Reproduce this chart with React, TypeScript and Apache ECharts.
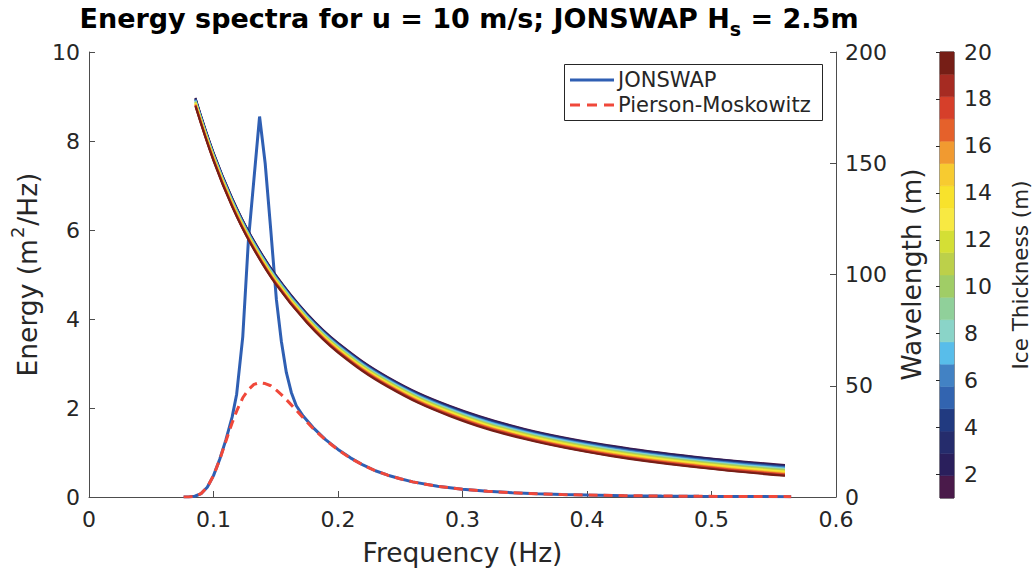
import React, { useEffect, useRef } from "react";
import * as echarts from "echarts";

// ---- Spectra (left axis) ----
const FREQ_SPEC = [0.076, 0.080, 0.085, 0.090, 0.095, 0.100, 0.105, 0.110, 0.115, 0.1186, 0.1235, 0.128, 0.1325, 0.137, 0.1415, 0.146, 0.1505, 0.1545, 0.1585, 0.1625, 0.1665, 0.172, 0.180, 0.190, 0.200, 0.210, 0.220, 0.230, 0.240, 0.250, 0.260, 0.280, 0.300, 0.320, 0.340, 0.360, 0.380, 0.400, 0.430, 0.460, 0.490, 0.520, 0.564];
const JONSWAP = [0, 0.002, 0.017, 0.076, 0.22, 0.48, 0.85, 1.29, 1.80, 2.31, 3.6, 5.75, 7.15, 8.55, 7.50, 6.00, 4.44, 3.50, 2.80, 2.35, 2.05, 1.82, 1.56, 1.29, 1.07, 0.88, 0.72, 0.59, 0.49, 0.41, 0.34, 0.24, 0.175, 0.128, 0.096, 0.072, 0.055, 0.043, 0.030, 0.022, 0.016, 0.012, 0.008];
const PIERSON_MOSKOWITZ = [0, 0.002, 0.017, 0.076, 0.22, 0.48, 0.84, 1.26, 1.67, 1.93, 2.23, 2.41, 2.53, 2.57, 2.55, 2.50, 2.40, 2.30, 2.19, 2.07, 1.95, 1.78, 1.54, 1.28, 1.06, 0.87, 0.72, 0.59, 0.49, 0.41, 0.34, 0.24, 0.175, 0.128, 0.096, 0.072, 0.055, 0.043, 0.030, 0.022, 0.016, 0.012, 0.008];

// ---- Wavelength (right axis), one row per ice thickness 1..20 m ----
const FREQ_WAVE = [0.0855, 0.1, 0.115, 0.13, 0.15, 0.175, 0.2, 0.24, 0.29, 0.35, 0.42, 0.49, 0.559];
const WAVE_H1 = [179.4, 154.9, 134.4, 117.6, 99.8, 82.5, 69.3, 53.9, 40.9, 30.6, 23.0, 17.9, 14.4];
const WAVE_H2 = [179.2, 154.7, 134.2, 117.4, 99.6, 82.3, 69.1, 53.7, 40.7, 30.4, 22.8, 17.7, 14.1];
const WAVE_H3 = [179.0, 154.5, 134.0, 117.2, 99.4, 82.1, 68.8, 53.4, 40.4, 30.1, 22.5, 17.4, 13.9];
const WAVE_H4 = [178.8, 154.3, 133.8, 117.0, 99.1, 81.8, 68.6, 53.2, 40.2, 29.9, 22.3, 17.2, 13.6];
const WAVE_H5 = [178.6, 154.1, 133.6, 116.8, 98.9, 81.6, 68.4, 53.0, 39.9, 29.6, 22.0, 16.9, 13.4];
const WAVE_H6 = [178.4, 153.9, 133.4, 116.6, 98.7, 81.4, 68.2, 52.8, 39.7, 29.4, 21.8, 16.7, 13.1];
const WAVE_H7 = [178.2, 153.7, 133.1, 116.3, 98.5, 81.2, 67.9, 52.5, 39.5, 29.2, 21.5, 16.4, 12.8];
const WAVE_H8 = [178.0, 153.5, 132.9, 116.1, 98.3, 81.0, 67.7, 52.3, 39.2, 28.9, 21.3, 16.2, 12.6];
const WAVE_H9 = [177.8, 153.3, 132.7, 115.9, 98.0, 80.7, 67.5, 52.1, 39.0, 28.7, 21.0, 15.9, 12.3];
const WAVE_H10 = [177.6, 153.1, 132.5, 115.7, 97.8, 80.5, 67.2, 51.8, 38.7, 28.4, 20.8, 15.7, 12.1];
const WAVE_H11 = [177.4, 152.9, 132.3, 115.5, 97.6, 80.3, 67.0, 51.6, 38.5, 28.2, 20.5, 15.4, 11.8];
const WAVE_H12 = [177.2, 152.7, 132.1, 115.3, 97.4, 80.1, 66.8, 51.4, 38.3, 28.0, 20.3, 15.2, 11.5];
const WAVE_H13 = [177.0, 152.5, 131.9, 115.1, 97.2, 79.9, 66.5, 51.1, 38.0, 27.7, 20.0, 14.9, 11.3];
const WAVE_H14 = [176.8, 152.3, 131.7, 114.9, 96.9, 79.6, 66.3, 50.9, 37.8, 27.5, 19.8, 14.7, 11.0];
const WAVE_H15 = [176.6, 152.1, 131.5, 114.7, 96.7, 79.4, 66.1, 50.7, 37.5, 27.2, 19.5, 14.4, 10.8];
const WAVE_H16 = [176.4, 151.9, 131.3, 114.5, 96.5, 79.2, 65.9, 50.5, 37.3, 27.0, 19.3, 14.2, 10.5];
const WAVE_H17 = [176.2, 151.7, 131.0, 114.2, 96.3, 79.0, 65.6, 50.2, 37.1, 26.8, 19.0, 13.9, 10.2];
const WAVE_H18 = [176.0, 151.5, 130.8, 114.0, 96.1, 78.8, 65.4, 50.0, 36.8, 26.5, 18.8, 13.7, 10.0];
const WAVE_H19 = [175.8, 151.3, 130.6, 113.8, 95.8, 78.5, 65.2, 49.8, 36.6, 26.3, 18.5, 13.4, 9.7];
const WAVE_H20 = [175.6, 151.1, 130.4, 113.6, 95.6, 78.3, 64.9, 49.5, 36.3, 26.0, 18.3, 13.2, 9.5];
const WAVE_ROWS = [WAVE_H1, WAVE_H2, WAVE_H3, WAVE_H4, WAVE_H5, WAVE_H6, WAVE_H7, WAVE_H8, WAVE_H9, WAVE_H10, WAVE_H11, WAVE_H12, WAVE_H13, WAVE_H14, WAVE_H15, WAVE_H16, WAVE_H17, WAVE_H18, WAVE_H19, WAVE_H20];
const THICKNESS = [1, 2, 3, 4, 5, 6, 7, 8, 9, 10, 11, 12, 13, 14, 15, 16, 17, 18, 19, 20];
const THICK_COLORS = ["#4a1a4a", "#2a1f5c", "#252c6c", "#213a80", "#3264b0", "#4282c4", "#58bdea", "#8ad4c8", "#90d09a", "#a0cd66", "#bcd04a", "#d4df35", "#f8e942", "#f8e22c", "#f7cb30", "#f19a30", "#e5612b", "#d63f2a", "#a62b22", "#761e16"];
const COLORBAR_TICKS = [2, 4, 6, 8, 10, 12, 14, 16, 18, 20];

const FONT = "DejaVu Sans";
const TXT = "#262626";
const AXC = "#4d4d4d";
const J_COLOR = "#2f5fb3";
const PM_COLOR = "#f0483a";

export default function App() {
  const ref = useRef<HTMLDivElement>(null);
  useEffect(() => {
    if (!ref.current) return;
    const chart = echarts.init(ref.current, null, { renderer: "svg" });
    const axisCommon = {
      axisLine: { show: true, lineStyle: { color: AXC, width: 1 } },
      axisTick: { show: true, inside: true, length: 6, lineStyle: { color: AXC } },
      splitLine: { show: false },
      axisLabel: { color: TXT, fontSize: 22, fontFamily: FONT },
      nameTextStyle: { color: TXT, fontSize: 26.5, fontFamily: FONT },
    };
    const cbMin = 1, cbMax = 20;
    const band = (cbMax - cbMin) / THICK_COLORS.length;
    const legendText = { fontSize: 21, fontFamily: FONT, fill: TXT, verticalAlign: "middle", align: "left" };
    const option: any = {
      animation: false,
      backgroundColor: "#fff",
      textStyle: { fontFamily: FONT },
      grid: [
        { left: 89, top: 52, width: 747, height: 446 },
        { left: 940, top: 52, width: 22, height: 446, show: true, borderColor: "#262626", borderWidth: 1, backgroundColor: "transparent" },
      ],
      graphic: [
        {
          type: "text", x: 469, y: 5,
          style: {
            text: "{a|Energy spectra for u = 10 m/s; JONSWAP H}{b|s}{a| = 2.5m}",
            align: "center",
            rich: {
              a: { fontSize: 27, fontWeight: "bold", fontFamily: FONT, fill: "#000", verticalAlign: "top" },
              b: { fontSize: 19, fontWeight: "bold", fontFamily: FONT, fill: "#000", verticalAlign: "top", padding: [14, 0, 0, 0] },
            },
          },
        },
        // legend box
        {
          type: "rect", z: 50,
          shape: { x: 564.5, y: 64.5, width: 258, height: 56 },
          style: { fill: "#fff", stroke: "#262626", lineWidth: 1 },
        },
        { type: "line", z: 51, shape: { x1: 570, y1: 80, x2: 614, y2: 80 }, style: { stroke: J_COLOR, lineWidth: 3 } },
        { type: "text", z: 51, x: 618, y: 80, style: { text: "JONSWAP", ...legendText } },
        { type: "line", z: 51, shape: { x1: 570, y1: 105, x2: 614, y2: 105 }, style: { stroke: PM_COLOR, lineWidth: 3, lineDash: [10, 7] } },
        { type: "text", z: 51, x: 618, y: 105, style: { text: "Pierson-Moskowitz", ...legendText } },
      ],
      xAxis: [
        {
          ...axisCommon, gridIndex: 0, type: "value", min: 0, max: 0.6, interval: 0.1,
          name: "Frequency (Hz)", nameLocation: "middle", nameGap: 42,
          axisLabel: { ...axisCommon.axisLabel, margin: 11 },
        },
        { gridIndex: 1, type: "value", min: 0, max: 1, show: false },
      ],
      yAxis: [
        {
          ...axisCommon, gridIndex: 0, type: "value", min: 0, max: 10, interval: 2,
          name: "{a|Energy (m}{s|2}{a|/Hz)}", nameLocation: "middle", nameGap: 47, nameRotate: 90,
          nameTextStyle: {
            color: TXT, fontFamily: FONT,
            rich: {
              a: { fontSize: 26.5, fontFamily: FONT, color: TXT, verticalAlign: "top", padding: [6, 0, 0, 0] },
              s: { fontSize: 18, fontFamily: FONT, color: TXT, verticalAlign: "top", padding: [0, 1, 0, 1] },
            },
          },
          axisLabel: { ...axisCommon.axisLabel, margin: 9 },
        },
        {
          ...axisCommon, gridIndex: 0, type: "value", position: "right", min: 0, max: 200, interval: 50,
          name: "Wavelength (m)", nameLocation: "middle", nameGap: 60, nameRotate: 90,
          axisLabel: { ...axisCommon.axisLabel, margin: 9 },
        },
        {
          gridIndex: 1, type: "value", position: "right", min: cbMin, max: cbMax,
          axisLine: { show: false },
          splitLine: { show: false },
          axisTick: { show: true, inside: true, length: 4, lineStyle: { color: "#262626" }, customValues: COLORBAR_TICKS },
          axisLabel: { color: TXT, fontSize: 22, fontFamily: FONT, margin: 10, customValues: COLORBAR_TICKS },
          name: "Ice Thickness (m)", nameLocation: "middle", nameGap: 55, nameRotate: 90,
          nameTextStyle: { color: TXT, fontSize: 21.5, fontFamily: FONT },
        },
      ],
      series: [
        {
          name: "JONSWAP", type: "line", xAxisIndex: 0, yAxisIndex: 0,
          data: FREQ_SPEC.map((f, i) => [f, JONSWAP[i]]),
          symbol: "none", showSymbol: false, z: 3,
          lineStyle: { color: J_COLOR, width: 3 }, itemStyle: { color: J_COLOR },
        },
        {
          name: "Pierson-Moskowitz", type: "line", xAxisIndex: 0, yAxisIndex: 0,
          data: FREQ_SPEC.map((f, i) => [f, PIERSON_MOSKOWITZ[i]]),
          symbol: "none", showSymbol: false, z: 4,
          lineStyle: { color: PM_COLOR, width: 3, type: [9, 6] }, itemStyle: { color: PM_COLOR },
        },
        ...WAVE_ROWS.map((row, k) => ({
          name: "h" + THICKNESS[k], type: "line", xAxisIndex: 0, yAxisIndex: 1,
          data: FREQ_WAVE.map((f, i) => [f, row[i]]),
          symbol: "none", showSymbol: false, smooth: 0.4, z: 5,
          lineStyle: { color: THICK_COLORS[k], width: 2 },
        })),
        {
          name: "colorbar", type: "custom", xAxisIndex: 1, yAxisIndex: 2,
          data: THICK_COLORS.map((c, i) => [i]),
          renderItem: (params: any, api: any) => {
            const i = api.value(0);
            const p0 = api.coord([0, cbMin + i * band]);
            const p1 = api.coord([1, cbMin + (i + 1) * band]);
            return {
              type: "rect",
              shape: { x: p0[0], y: p1[1], width: p1[0] - p0[0], height: p0[1] - p1[1] },
              style: { fill: THICK_COLORS[i], stroke: THICK_COLORS[i], lineWidth: 0.5 },
            };
          },
          z: 1,
        },
      ],
    };
    chart.setOption(option);
    return () => chart.dispose();
  }, []);
  return <div ref={ref} style={{ position: "fixed", left: 0, top: 0, width: 1032, height: 571, background: "#fff" }} />;
}
